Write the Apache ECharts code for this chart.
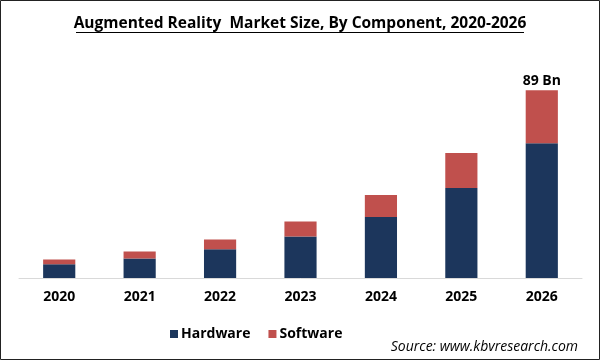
<!DOCTYPE html>
<html>
<head>
<meta charset="utf-8">
<script src="https://cdn.jsdelivr.net/npm/echarts@6/dist/echarts.min.js"></script>
<style>
html,body{margin:0;padding:0;background:#fff;}
#main{width:601px;height:361px;}
</style>
</head>
<body>
<div id="main"></div>
<script>
const years = ['2020','2021','2022','2023','2024','2025','2026'];
const hardware = [6.5, 9.3, 13.6, 19.7, 28.9, 42.7, 63.9];
const software = [2.3, 3.3, 4.7, 7.1, 10.4, 16.5, 25.1];
const topLabels = ['', '', '', '', '', '', '89 Bn'];
const titleText = 'Augmented Reality  Market Size, By Component, 2020-2026';
const sourceText = 'Source: www.kbvresearch.com';

const FONT = '"Open Sans", "Noto Sans", sans-serif';
const chart = echarts.init(document.getElementById('main'), null, {renderer: 'canvas'});
chart.setOption({
  backgroundColor: '#fff',
  animation: false,
  grid: {left: 19, right: 19, top: 67, bottom: 83, containLabel: false},
  legend: {
    data: ['Hardware', 'Software'],
    left: 165, top: 322,
    icon: 'rect', itemWidth: 8, itemHeight: 8, itemGap: 18,
    textStyle: {fontFamily: FONT, fontWeight: 'bold', fontSize: 14, color: '#000', padding: [0,0,0,-2]}
  },
  xAxis: {
    type: 'category', data: years,
    axisLine: {lineStyle: {color: '#d9d9d9', width: 1}},
    axisTick: {show: false},
    axisLabel: {fontFamily: FONT, fontWeight: 'bold', fontSize: 14, color: '#000', margin: 12}
  },
  yAxis: {type: 'value', min: 0, max: 100, show: false, splitLine: {show: false}},
  series: [
    {name: 'Hardware', type: 'bar', stack: 'a', data: hardware, barWidth: '40%',
     itemStyle: {color: '#1c365c'}},
    {name: 'Software', type: 'bar', stack: 'a', data: software, barWidth: '40%',
     itemStyle: {color: '#c0504d'},
     label: {show: true, position: 'top', distance: 2,
       formatter: p => topLabels[p.dataIndex],
       fontFamily: FONT, fontWeight: 'bold', fontSize: 14, color: '#000'}}
  ],
  graphic: [
    {type: 'rect', shape: {x: 0.5, y: 0.5, width: 599, height: 359},
     style: {fill: 'none', stroke: '#222', lineWidth: 1}, silent: true},
    {type: 'text', x: 300, y: 24,
     style: {text: titleText, fontFamily: FONT, fontWeight: 'bold', fontSize: 15.5, fill: '#000',
       textAlign: 'center', textVerticalAlign: 'middle'}},
    {type: 'line', shape: {x1: 76, y1: 32.5, x2: 524, y2: 32.5},
     style: {stroke: '#000', lineWidth: 1}},
    {type: 'text', x: 578, y: 347,
     style: {text: sourceText, fontFamily: FONT, fontStyle: 'italic', fontSize: 14, fill: '#000',
       textAlign: 'right', textVerticalAlign: 'middle'}}
  ]
});
</script>
</body>
</html>
